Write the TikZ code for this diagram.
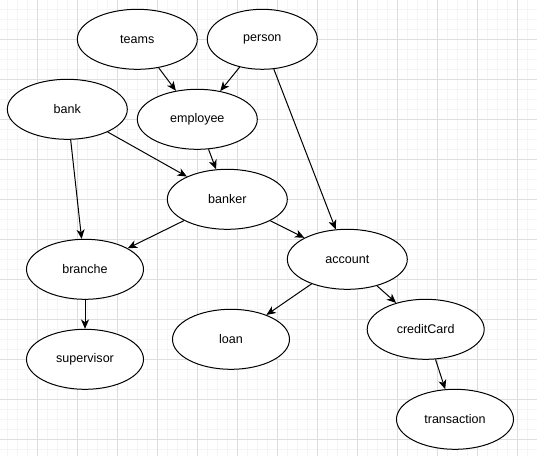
\documentclass[tikz,border=0pt]{standalone}
\usepackage{fontspec}
\setmainfont{Liberation Sans}
\usepackage{tikz}
\usetikzlibrary{shapes.geometric}
\usetikzlibrary{arrows.meta}
\definecolor{ColGridA}{RGB}{245,245,245}
\definecolor{ColGridB}{RGB}{222,222,222}
\tikzstyle{Entity}=[ellipse,draw=black,fill=white,line width=0.75pt,
inner sep=0pt,minimum height=45pt,minimum width=87.75pt,
font=\fontsize{9.4}{11}\selectfont]
\tikzstyle{EntityW}=[Entity,minimum width=90pt]
\tikzstyle{Link}=[draw=black,line width=0.75pt,
-{Stealth[length=7pt,width=6pt,inset=2pt]}]
\tikzstyle{GridMinor}=[draw=ColGridA,line width=0.75pt]
\tikzstyle{GridMajor}=[draw=ColGridB,line width=0.75pt]

\begin{document}
\begin{tikzpicture}[x=0.75pt,y=-0.75pt]
        \useasboundingbox(2.7,0.7)rectangle(539.7,456.7);
        \fill[white](2.7,0.7)rectangle(539.7,456.7);
        \begin{scope}
        \clip(2.7,0.7)rectangle(539.7,456.7);
        \foreach \i in {0,...,54}{\draw[GridMinor](\i*10,0)--(\i*10,460);}
        \foreach \j in {0,...,46}{\draw[GridMinor](0,\j*10)--(540,\j*10);}
        \foreach \i in {0,...,13}{\draw[GridMajor](\i*40,0)--(\i*40,460);}
        \foreach \j in {0,...,11}{\draw[GridMajor](0,\j*40)--(540,\j*40);}
        \end{scope}
        \node[EntityW](teams)at(140.00,40.00){teams};
        \node[Entity,minimum width=82.5pt](person)at(265.00,40.00){person};
        \node[EntityW](bank)at(70.00,110.00){bank};
        \node[EntityW](employee)at(200.00,120.00){employee};
        \node[EntityW](banker)at(230.00,200.00){banker};
        \node[EntityW](account)at(350.00,260.00){account};
        \node[Entity](branche)at(87.70,270.00){branche};
        \node[Entity](supervisor)at(87.70,360.00){supervisor};
        \node[Entity](loan)at(233.70,340.00){loan};
        \node[Entity](creditCard)at(428.40,330.00){creditCard};
        \node[Entity](transaction)at(457.70,420.00){transaction};
        \draw[Link](teams)--(employee);
        \draw[Link](person)--(employee);
        \draw[Link](person)--(account);
        \draw[Link](bank)--(branche);
        \draw[Link](bank)--(banker);
        \draw[Link](employee)--(banker);
        \draw[Link](banker)--(branche);
        \draw[Link](banker)--(account);
        \draw[Link](branche)--(supervisor);
        \draw[Link](account)--(loan);
        \draw[Link](account)--(creditCard);
        \draw[Link](creditCard)--(transaction);
    \end{tikzpicture}
\end{document}
